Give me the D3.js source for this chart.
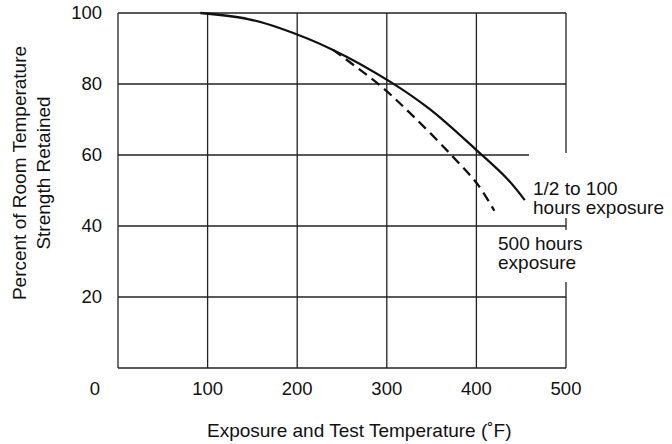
<!DOCTYPE html>
<html>
<head>
<meta charset="utf-8">
<script src="https://cdn.jsdelivr.net/npm/d3@7"></script>
<style>
  body { margin: 0; background: #fff; }
  svg { display: block; font-family: "Liberation Sans", Arial, Helvetica, sans-serif; }
</style>
</head>
<body>
<svg width="672" height="444"></svg>
<script>
// values
const xTicks = [100, 200, 300, 400, 500]
const yTicks = [20, 40, 60, 80, 100]
const shortTemp = [92, 145, 181, 240, 304, 348, 400, 434, 454]
const shortPct  = [100, 98.3, 95.7, 89.6, 80.6, 72.9, 61.4, 53.4, 47.3]
const longTemp  = [240, 292, 330, 372, 402, 420]
const longPct   = [89.6, 79.7, 70.8, 60, 51.5, 44.3]
const shortLabel = ['1/2 to 100', 'hours exposure']
const longLabel = ['500 hours', 'exposure']

const svg = d3.select('svg')
const margin = {top: 13, right: 106, bottom: 76, left: 118}
const width = 672, height = 444
const innerWidth = width - margin.left - margin.right
const innerHeight = height - margin.top - margin.bottom
const ink = '#222'

const x = d3.scaleLinear().domain([0, 500]).range([0, innerWidth])
const y = d3.scaleLinear().domain([0, 100]).range([innerHeight, 0])

const g = svg.append('g').attr('transform', `translate(${margin.left},${margin.top})`)

// grid
g.selectAll('.vgrid').data(xTicks).join('line')
  .attr('x1', d => x(d)).attr('x2', d => x(d))
  .attr('y1', 0).attr('y2', innerHeight)
  .attr('stroke', ink).attr('stroke-width', 1.3)
g.selectAll('.hgrid').data(yTicks).join('line')
  .attr('x1', 0).attr('x2', innerWidth)
  .attr('y1', d => y(d)).attr('y2', d => y(d))
  .attr('stroke', ink).attr('stroke-width', 1.3)
g.append('line').attr('x1', 0).attr('x2', 0).attr('y1', 0).attr('y2', innerHeight)
  .attr('stroke', ink).attr('stroke-width', 1.3)
g.append('line').attr('x1', 0).attr('x2', innerWidth).attr('y1', innerHeight).attr('y2', innerHeight)
  .attr('stroke', ink).attr('stroke-width', 1.3)

// tick labels
g.selectAll('.xt').data(xTicks).join('text')
  .attr('x', d => x(d)).attr('y', innerHeight + 27)
  .attr('text-anchor', 'middle').attr('font-size', 18.5).attr('fill', '#111')
  .text(d => d)
g.selectAll('.yt').data(yTicks).join('text')
  .attr('x', -16).attr('y', d => y(d)).attr('dy', '0.35em')
  .attr('text-anchor', 'end').attr('font-size', 18.5).attr('fill', '#111')
  .text(d => d)
g.append('text').attr('x', -23).attr('y', innerHeight + 27)
  .attr('text-anchor', 'middle').attr('font-size', 18.5).attr('fill', '#111').text('0')

// curves
const line = d3.line().x(d => x(d[0])).y(d => y(d[1])).curve(d3.curveCatmullRom.alpha(0.5))
g.append('path').datum(d3.zip(shortTemp, shortPct))
  .attr('d', line).attr('fill', 'none').attr('stroke', '#111').attr('stroke-width', 2.3)
g.append('path').datum(d3.zip(longTemp, longPct))
  .attr('d', line).attr('fill', 'none').attr('stroke', '#111').attr('stroke-width', 2.3)
  .attr('stroke-dasharray', '10,6')

// curve labels with white backing
function label(lines, x0, y0, boxTop, boxBottom) {
  svg.append('rect').attr('x', x0 - 4).attr('y', boxTop)
    .attr('width', 672 - x0 + 4).attr('height', boxBottom - boxTop).attr('fill', '#fff')
  svg.append('text').attr('font-size', 19).attr('fill', '#111')
    .selectAll('tspan').data(lines).join('tspan')
    .attr('x', x0).attr('y', (d, i) => y0 + i * 18.5)
    .text(d => d)
}
label(shortLabel, 533, 195, 153, 218)
label(longLabel, 498, 250, 230, 282)

// axis titles
svg.append('text').attr('x', 207).attr('y', 437)
  .attr('font-size', 19).attr('fill', '#111')
  .text('Exposure and Test Temperature (˚F)')
const yt = svg.append('g').attr('transform', 'translate(0,173) rotate(-90)')
yt.append('text').attr('x', 0).attr('y', 26).attr('text-anchor', 'middle')
  .attr('font-size', 19).attr('fill', '#111').text('Percent of Room Temperature')
yt.append('text').attr('x', 0).attr('y', 50).attr('text-anchor', 'middle')
  .attr('font-size', 19).attr('fill', '#111').text('Strength Retained')
</script>
</body>
</html>
